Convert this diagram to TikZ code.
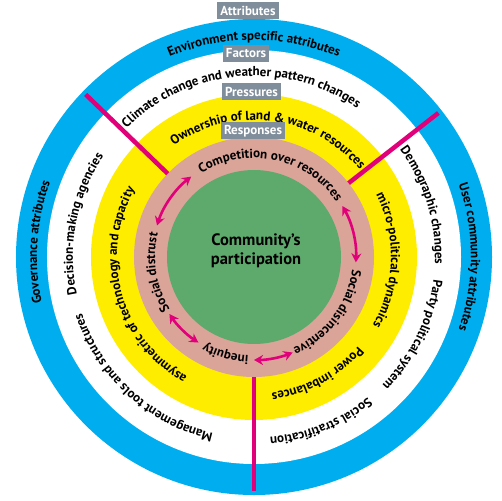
\documentclass[tikz,border=0pt]{standalone}
\usepackage{fontspec}
\setmainfont{PT Sans}
\usetikzlibrary{decorations.text,arrows.meta}
\definecolor{ringblue}{RGB}{0,174,239}
\definecolor{ringyellow}{RGB}{255,237,0}
\definecolor{ringsalmon}{RGB}{218,164,153}
\definecolor{ringgreen}{RGB}{94,170,108}
\definecolor{linemag}{RGB}{226,0,122}
\definecolor{labelgray}{RGB}{128,141,155}
\newcommand\ringfont{\fontsize{13}{15}\selectfont\bfseries}
\newcommand\arctext[3]{%
  \path[decorate,decoration={text along path,text align=center,text={|\ringfont|#3}}]
    (#2+85:#1 pt) arc[start angle=#2+85, end angle=#2-85, radius=#1 pt];}
\tikzset{
  sepline/.style={draw=linemag, line width=4.5pt},
  cyclearrow/.style={draw=linemag, line width=2.6pt,
    {Stealth[length=9pt,width=10pt]}-{Stealth[length=9pt,width=10pt]}},
  tag/.style={fill=labelgray, text=white, font=\fontsize{13}{15}\selectfont\bfseries,
    inner xsep=3pt, inner ysep=1.5pt, minimum height=17pt},
  core/.style={align=center, font=\fontsize{16.5}{19.5}\selectfont\bfseries}
}
\begin{document}
\begin{tikzpicture}[x=1pt,y=1pt]
\useasboundingbox (-254pt,-243pt) rectangle (248pt,257pt);
\fill[white] (-254pt,-243pt) rectangle (248pt,257pt);
% rings
\fill[ringblue] (0,0) circle[radius=238pt];
\fill[white] (0,0) circle[radius=207pt];
\fill[ringyellow] (0,0) circle[radius=163pt];
\fill[ringsalmon] (0,0) circle[radius=120pt];
\fill[ringgreen] (0,0) circle[radius=87pt];
% separators
\coordinate (s1a) at (136:120pt); \coordinate (s1b) at (136:234pt);
\coordinate (s2a) at (38:120pt);  \coordinate (s2b) at (38:234pt);
\coordinate (s3a) at (270:120pt); \coordinate (s3b) at (270:234pt);
\draw[sepline] (s1a) -- (s1b);
\draw[sepline] (s2a) -- (s2b);
\draw[sepline] (s3a) -- (s3b);
% blue ring texts
\arctext{217}{90}{Environment specific attributes}
\arctext{217}{176}{Governance attributes}
\arctext{217}{0}{User community attributes}
% white ring texts
\arctext{181}{95}{Climate change and weather pattern changes}
\arctext{181}{169}{Decision-making agencies}
\arctext{181}{227.5}{Management tools and structures}
\arctext{181}{17}{Demographic changes}
\arctext{181}{-26}{Party political system}
\arctext{181}{-68}{Social stratification}
% yellow ring texts
\arctext{137}{82.6}{Ownership of land {\&} water resources}
\arctext{137}{195.6}{asymmetric of technology and capacity}
\arctext{137}{-1.5}{micro-political dynamics}
\arctext{137}{-61.6}{Power imbalances}
% salmon ring texts
\arctext{99}{78}{Competition over resources}
\arctext{99}{189}{Social distrust}
\arctext{99}{-37}{Social disincentive}
\arctext{99}{253.7}{inequity}
% cycle arrows
\coordinate (a1) at (128:102pt); \coordinate (b1) at (162:102pt);
\coordinate (a2) at (214:102pt); \coordinate (b2) at (237:102pt);
\coordinate (a3) at (270:103pt); \coordinate (b3) at (292:103pt);
\coordinate (a4) at (30:102pt);  \coordinate (b4) at (-3:102pt);
\draw[cyclearrow] (a1) arc[start angle=128, end angle=162, radius=102pt];
\draw[cyclearrow] (a2) arc[start angle=214, end angle=237, radius=102pt];
\draw[cyclearrow] (a3) arc[start angle=270, end angle=292, radius=103pt];
\draw[cyclearrow] (a4) arc[start angle=30, end angle=-3, radius=102pt];
% labels
\node[tag] (attr) at (-6pt,246.5pt) {Attributes};
\node[tag] (fact) at (-8pt,203.5pt) {Factors};
\node[tag] (press) at (-2.5pt,165.5pt) {Pressures};
\node[tag] (resp) at (-1pt,126pt) {Responses};
% centre
\node[core] (comm) at (2pt,6pt) {Community’s\\participation};
\end{tikzpicture}
\end{document}
